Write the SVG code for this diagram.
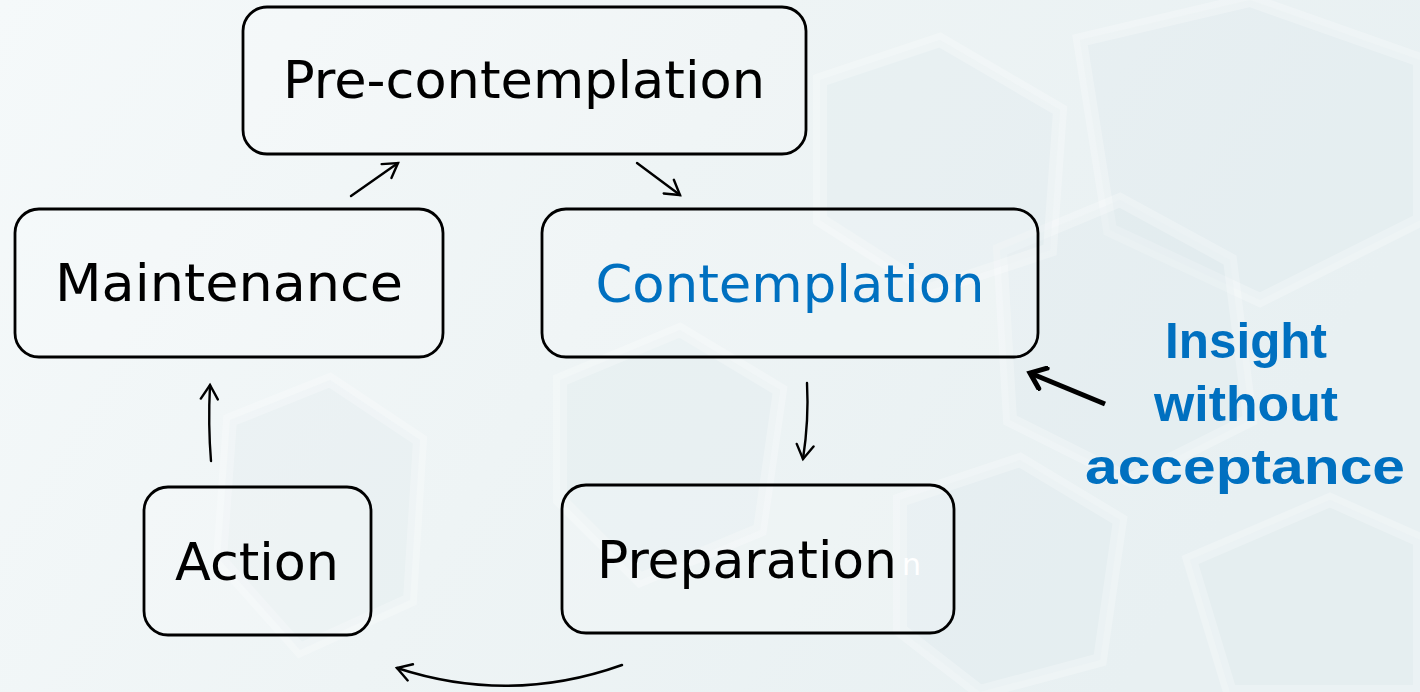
<svg xmlns="http://www.w3.org/2000/svg" width="1420" height="692" viewBox="0 0 1420 692">
<defs>
<linearGradient id="bg" x1="0" y1="0" x2="1" y2="0.3">
<stop offset="0" stop-color="#f5f9fa"/>
<stop offset="0.5" stop-color="#eef4f5"/>
<stop offset="1" stop-color="#e8f0f2"/>
</linearGradient>
<marker id="thin" markerWidth="20" markerHeight="20" refX="16" refY="10" orient="auto" markerUnits="userSpaceOnUse">
<path d="M2,1.5 L16,10 L2,18.5" fill="none" stroke="#000" stroke-width="2.4" stroke-linecap="round"/>
</marker>
<marker id="thick" markerWidth="24" markerHeight="26" refX="19" refY="13" orient="auto" markerUnits="userSpaceOnUse">
<path d="M5,2 L19,13 L5,24" fill="none" stroke="#000" stroke-width="5" stroke-linecap="round"/>
</marker>
</defs>
<style>
.box{fill:#ffffff;fill-opacity:0.15;stroke:#000;stroke-width:2.8}
.lbl{font-family:"DejaVu Sans",sans-serif;font-size:52px;fill:#000;text-anchor:middle}
.blue{fill:#0070c0}
.ins{font-family:"Liberation Sans",Arial,sans-serif;font-weight:bold;font-size:50px;fill:#0070c0;text-anchor:middle}
.con{fill:none;stroke:#000;stroke-width:2.4;stroke-linecap:round}
</style>
<rect width="1420" height="692" fill="url(#bg)"/>
<g id="background" fill="#dbe7ea" fill-opacity="0.25" stroke="#ffffff" stroke-opacity="0.25" stroke-width="14">
<polygon points="1080,40 1250,0 1420,60 1420,220 1260,300 1110,230"/>
<polygon points="1000,250 1120,200 1230,260 1250,420 1130,480 1010,420"/>
<polygon points="1190,560 1330,500 1420,540 1420,692 1230,692"/>
<polygon points="820,80 940,40 1060,110 1050,250 930,290 820,220"/>
<polygon points="560,380 680,330 780,390 760,530 640,580 560,500"/>
<polygon points="230,420 330,380 420,440 410,600 300,650 220,560"/>
<polygon points="900,500 1020,460 1120,520 1100,660 980,692 900,630"/>
</g>
<g id="connectors">
<line class="con" x1="351" y1="196" x2="398" y2="163" marker-end="url(#thin)"/>
<line class="con" x1="637" y1="163" x2="680" y2="195" marker-end="url(#thin)"/>
<path class="con" d="M807,383 Q809,420 803,459" marker-end="url(#thin)"/>
<path class="con" d="M622,665 Q510,705 397,668" marker-end="url(#thin)"/>
<path class="con" d="M211,461 Q208,425 210,385" marker-end="url(#thin)"/>
<line x1="1105" y1="404" x2="1030" y2="373" stroke="#000" stroke-width="5" marker-end="url(#thick)"/>
</g>
<g id="precontemplation">
<rect class="box" x="243" y="7" width="563" height="147" rx="24"/>
<text class="lbl" x="524" y="98" textLength="482" lengthAdjust="spacingAndGlyphs">Pre-contemplation</text>
</g>
<g id="maintenance">
<rect class="box" x="15" y="209" width="428" height="148" rx="24"/>
<text class="lbl" x="229" y="301" textLength="348" lengthAdjust="spacingAndGlyphs">Maintenance</text>
</g>
<g id="contemplation">
<rect class="box" x="542" y="209" width="496" height="148" rx="24"/>
<text class="lbl blue" x="790" y="302" textLength="389" lengthAdjust="spacingAndGlyphs">Contemplation</text>
</g>
<g id="action">
<rect class="box" x="144" y="487" width="227" height="148" rx="24"/>
<text class="lbl" x="257" y="580" textLength="164" lengthAdjust="spacingAndGlyphs">Action</text>
</g>
<g id="preparation">
<rect class="box" x="562" y="485" width="392" height="148" rx="24"/>
<text class="lbl" x="747" y="578" textLength="300" lengthAdjust="spacingAndGlyphs">Preparation</text>
<text x="902" y="575" font-family="DejaVu Sans,sans-serif" font-size="30" fill="#ffffff">n</text>
</g>
<g id="insight">
<text class="ins" x="1246" y="358" textLength="162" lengthAdjust="spacingAndGlyphs">Insight</text>
<text class="ins" x="1246" y="421" textLength="184" lengthAdjust="spacingAndGlyphs">without</text>
<text class="ins" x="1245" y="484" textLength="320" lengthAdjust="spacingAndGlyphs">acceptance</text>
</g>
</svg>
